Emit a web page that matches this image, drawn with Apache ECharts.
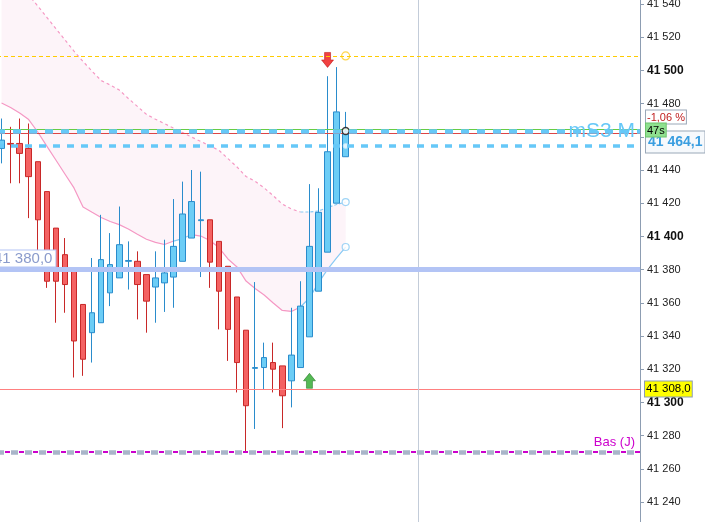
<!DOCTYPE html>
<html><head><meta charset="utf-8">
<script src="https://cdn.jsdelivr.net/npm/echarts@6/dist/echarts.min.js"></script>
<style>html,body{margin:0;padding:0;background:#fff}#c{width:705px;height:522px}</style>
</head><body><div id="c"></div>
<script>
// ---- data ----
const slotCount = 71; // candle slots across the visible time axis (39 filled)
const categories = Array.from({length: slotCount}, (_, i) => 'b' + i);
const opens  = [41453,41456,41456,41453,41445,41427,41405,41389,41379,41359,41342,41348,41366,41375,41385,41385,41377,41369.5,41372,41375.5,41385,41399,41409.5,41410,41397,41382,41363.5,41343.5,41320.5,41321,41324,41322,41313,41321,41339.5,41367,41390.5,41420,41448];
const closes = [41458,41455.5,41450,41436,41410,41373,41373,41371,41337,41326,41354,41386,41383,41395,41385.5,41371,41361,41375,41378,41394,41413.5,41421,41410,41384.5,41367,41344,41324,41298,41321,41327,41320,41304,41328.5,41358,41394,41414.5,41451,41475,41463.5];
const lows   = [41444,41432,41432,41411,41389,41369,41348,41354,41315,41316,41324,41348,41358,41375,41368,41350,41342,41348,41354.5,41357,41385,41399,41375.5,41369,41344,41325,41306,41269.5,41284,41308,41306,41284.5,41297,41321,41339.5,41367,41390.5,41420,41448];
const highs  = [41471,41466,41471,41468,41445,41427,41405,41399,41380,41359,41387,41413,41402,41418,41397,41391,41377,41391,41398,41422.5,41433,41440,41439,41410,41397,41382,41363.5,41343.5,41372.5,41336,41336,41322,41357,41373,41431.5,41429,41496.5,41502,41475];
const bandUpper = [41566,41559,41552.6,41545.4,41538.8,41532.0,41525.2,41518.4,41511.6,41505.4,41499.5,41493.9,41491.2,41488.2,41483.1,41478.3,41473.5,41470.6,41467.9,41465.2,41462.5,41459.8,41457.2,41454.5,41451.9,41446.9,41441.8,41436.1,41433.2,41429.2,41424.5,41419.5,41416.5,41414.7,41414.7,41415.3,41417.4,41419.2,41420.7];
const bandLower = [41480.4,41477.7,41474.3,41470.4,41462.9,41454.4,41446.0,41437.6,41429.2,41417.7,41414.5,41411.4,41409.0,41407.1,41404.5,41401.3,41398.3,41396.4,41395.1,41397.2,41398.7,41401.1,41400.2,41397.5,41393.3,41386.4,41381.6,41373.1,41368.6,41364.7,41359.9,41355.4,41354.8,41357.5,41362.9,41372.0,41380.1,41387.0,41393.6];
// rising (blue) stretches of the band lines, as [fromIndex, toIndex]
const lowerRising = [[19,21],[33,38]];
const upperRising = [[33,38]];
const levels = {high: 41508.7, bidLine: 41464.7, askLine: 41462.3, mS3: 41463.5, level2: 41454.5, pivot: 41380, lastRef: 41308, dayLow: 41270};
const lastPrice = 41464.1;
const sessionSlot = 46;
const sellSignal = [36, 41506.3];
const buySignal = [34, 41313];
const labels = {pct: '-1,06 %', timer: '47s', price: '41 464,1', pivot: '41 380,0', lastRef: '41 308,0', mS3: 'mS3 M', dayLow: 'Bas (J)'};

const FONT = '"Liberation Sans", Arial, sans-serif';
const PINK = '#f598c4', BLUE = '#88caf4';
function inRanges(i, ranges){ return ranges.some(r => i >= r[0] && i <= r[1]); }
function fmt(v){ const s = String(v); return s.slice(0, s.length-3) + ' ' + s.slice(-3); }
const last = opens.length - 1;

const chart = echarts.init(document.getElementById('c'));
const option = {
  animation: false,
  textStyle: {fontFamily: FONT},
  grid: {left: -3, right: 65, top: -29.2, bottom: -13.2, outerBoundsMode: 'none', containLabel: false},
  xAxis: {type: 'category', data: categories, boundaryGap: true, show: false},
  yAxis: {
    type: 'value', position: 'right', min: 41220, max: 41560, interval: 20,
    axisLine: {show: true, lineStyle: {color: '#8d9db2', width: 1}},
    axisTick: {show: true, length: 4, lineStyle: {color: '#8d9db2'}},
    splitLine: {show: false},
    axisLabel: {
      margin: 7, color: '#222', fontSize: 11, fontFamily: FONT,
      formatter: v => v % 100 === 0 ? '{b|' + fmt(v) + '}' : fmt(v),
      rich: {b: {fontWeight: 'bold', fontSize: 12, color: '#111', fontFamily: FONT}}
    }
  },
  series: [
    {type: 'line', data: bandLower, stack: 'band', symbol: 'none', lineStyle: {opacity: 0}, silent: true, z: 1},
    {type: 'line', data: bandUpper.map((u, i) => +(u - bandLower[i]).toFixed(2)), stack: 'band', symbol: 'none',
     lineStyle: {opacity: 0}, areaStyle: {color: 'rgb(253,244,249)', opacity: 1}, silent: true, z: 1},
    {type: 'line', data: bandUpper.map((v, i) => inRanges(i, upperRising) && i !== upperRising[0][0] ? '-' : v), symbol: 'none',
     lineStyle: {color: PINK, width: 1.2, type: [3, 3]}, silent: true, z: 1},
    {type: 'line', data: bandUpper.map((v, i) => inRanges(i, upperRising) ? v : '-'), symbol: 'none',
     lineStyle: {color: BLUE, width: 1.2, type: [3, 2]}, silent: true, z: 1},
    {type: 'line', data: bandLower.map((v, i) => (inRanges(i, lowerRising) && !lowerRising.some(r => r[0] === i || r[1] === i)) ? '-' : v), symbol: 'none',
     lineStyle: {color: PINK, width: 1.2}, silent: true, z: 1},
    {type: 'line', data: bandLower.map((v, i) => inRanges(i, lowerRising) ? v : '-'), symbol: 'none',
     lineStyle: {color: BLUE, width: 1.2}, silent: true, z: 1},
    {type: 'candlestick', data: opens.map((o, i) => [o, closes[i], lows[i], highs[i]]), barWidth: 6, z: 2,
     itemStyle: {color: '#6ccdf6', color0: '#f46262', borderColor: '#2a8ccc', borderColor0: '#c82828', borderWidth: 1}},
    {type: 'scatter', z: 4, silent: true,
     data: [
       {value: [last, levels.high], symbol: 'circle', symbolSize: 8, itemStyle: {color: '#fff', borderColor: '#ffcc22', borderWidth: 1.2}},
       {value: [last, bandUpper[last]], symbol: 'circle', symbolSize: 7, itemStyle: {color: '#fff', borderColor: BLUE, borderWidth: 1.2}},
       {value: [last, bandLower[last]], symbol: 'circle', symbolSize: 7, itemStyle: {color: '#fff', borderColor: BLUE, borderWidth: 1.2}},
       {value: [last, levels.level2], symbol: 'circle', symbolSize: 5, itemStyle: {color: '#fff', borderColor: '#bfe6fb', borderWidth: 1}},
       {value: [last, levels.mS3], symbol: 'circle', symbolSize: 7, itemStyle: {color: '#fff', borderColor: '#111', borderWidth: 1.3}},
       {value: sellSignal, symbol: 'path://M3,0L9,0L9,7L12,7L6,14L0,7L3,7Z', symbolSize: [12, 15], itemStyle: {color: '#ee1111', borderColor: '#b00000', borderWidth: 0.6}},
       {value: buySignal, symbol: 'path://M6,0L12,7L9,7L9,14L3,14L3,7L0,7Z', symbolSize: [12, 15], itemStyle: {color: '#2aa82a', borderColor: '#116611', borderWidth: 0.6}}
     ],
     markLine: {
       silent: true, symbol: ['none', 'none'], animation: false, label: {show: false},
       data: [
         {xAxis: sessionSlot, lineStyle: {color: '#c3ccd9', width: 1, type: 'solid'}},
         {yAxis: levels.high, lineStyle: {color: '#ffcc00', width: 1, type: [4, 3]}},
         {yAxis: levels.mS3, lineStyle: {color: '#66c8f8', width: 4.5, type: [8, 8]},
          label: {show: true, position: 'insideEnd', distance: 5, formatter: labels.mS3, color: '#66c8f8', fontSize: 21, fontFamily: FONT}},
         {yAxis: levels.level2, lineStyle: {color: '#66c8f8', width: 3.5, type: [7, 7]}},
         {yAxis: levels.pivot, lineStyle: {color: '#b3c4f5', width: 5, type: 'solid'},
          label: {show: true, position: 'insideStartTop', distance: [-6, 3], formatter: labels.pivot, color: '#8a9bcc', fontSize: 15, fontFamily: FONT,
                  backgroundColor: '#fff', borderColor: '#b3c4f5', borderWidth: 1, padding: [1, 3, 0, 3]}},
         {yAxis: levels.dayLow, lineStyle: {color: '#a9b5c9', width: 4.5, type: [7, 7]}},
         {yAxis: levels.dayLow, lineStyle: {color: '#cc00cc', width: 2, type: [5, 9], dashOffset: 6},
          label: {show: true, position: 'insideEndTop', distance: [5, 3], formatter: labels.dayLow, color: '#cc00cc', fontSize: 13, fontFamily: FONT}}
       ]
     }
    }
  ]
};
chart.setOption(option);

// thin price lines and right-hand price tags, positioned from the axis scale
const toY = v => chart.convertToPixel({yAxisIndex: 0}, v);
const xRight = chart.getWidth() - 65;
const xTag = xRight + 6;
const hLine = (v, color) => {
  const y = Math.round(toY(v)) + 0.5;
  return {type: 'line', z: 3, silent: true, shape: {x1: 0, y1: y, x2: xRight, y2: y}, style: {stroke: color, lineWidth: 1}};
};
const yP = toY(lastPrice);
const yRef = toY(levels.lastRef);
chart.setOption({graphic: [
  hLine(levels.bidLine, '#66cc44'),
  hLine(levels.askLine, '#dd4444'),
  hLine(levels.lastRef, '#ff8080'),
  {type: 'text', x: xTag - 1, y: yRef, z: 10, style: {text: labels.lastRef, font: '11.5px ' + FONT, fill: '#000', verticalAlign: 'middle',
     backgroundColor: '#ffff00', borderColor: '#8d9db2', borderWidth: 1, padding: [2, 1, 1, 1], lineHeight: 12}},
  {type: 'text', x: xTag, y: yP + 1.5, z: 10, style: {text: labels.price, font: 'bold 14px ' + FONT, fill: '#3a9ee0',
     backgroundColor: '#f6f9fc', borderColor: '#9aa8b8', borderWidth: 1, padding: [3, 2, 2, 2], lineHeight: 16}},
  {type: 'text', x: xTag, y: yP - 19.5, z: 11, style: {text: labels.pct, font: '11px ' + FONT, fill: '#c02020',
     backgroundColor: '#fff', borderColor: '#9aa8b8', borderWidth: 1, padding: [1, 1, 0, 1], lineHeight: 12}},
  {type: 'text', x: xTag, y: yP - 6.5, z: 12, style: {text: labels.timer, font: '11px ' + FONT, fill: '#000',
     backgroundColor: '#8fe08f', borderColor: '#6cc46c', borderWidth: 1, padding: [1, 1, 0, 1], lineHeight: 12}}
]});
</script></body></html>
